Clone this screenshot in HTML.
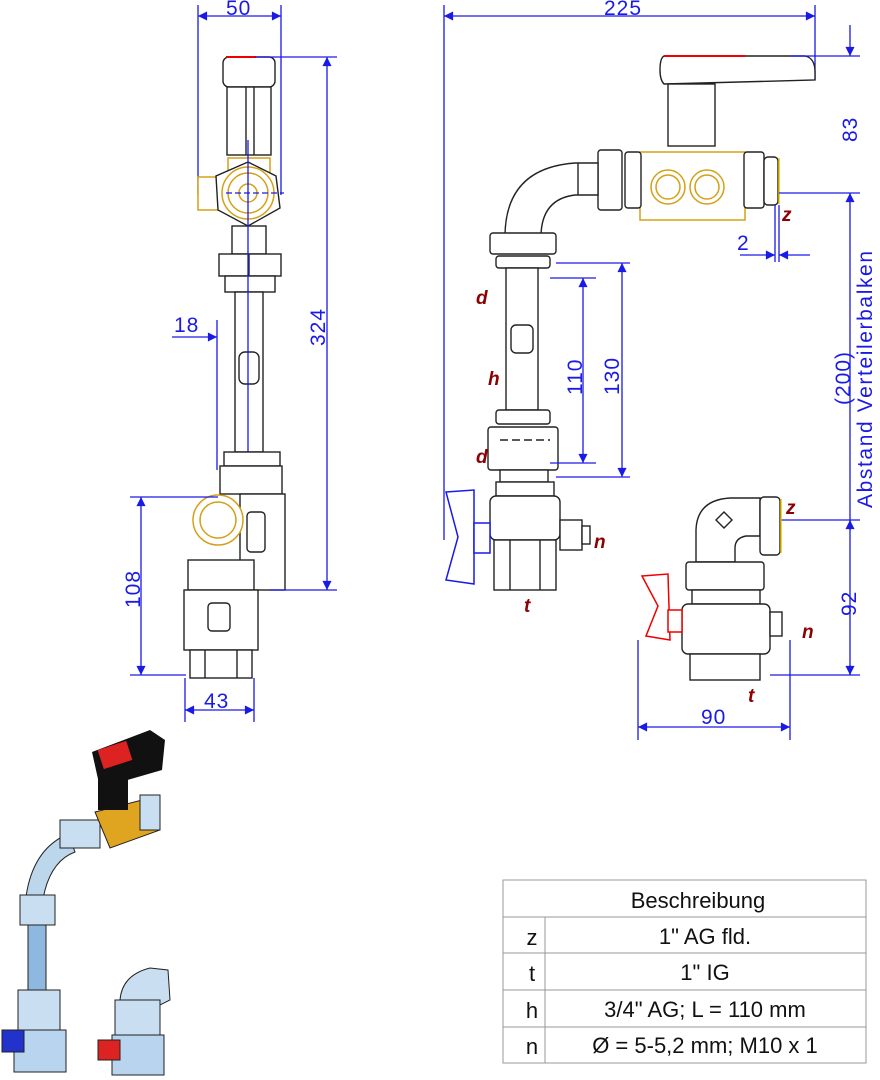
<!DOCTYPE html>
<html><head><meta charset="utf-8"><style>
html,body{margin:0;padding:0;background:#fff;}
svg{display:block;}
.d{stroke:#1a1ae6;stroke-width:1.3;fill:none}
.dt{fill:#1a1ae6;font-family:"Liberation Sans",sans-serif;font-size:21px;letter-spacing:1px}
.o{stroke:#222;stroke-width:1.4;fill:#fff}
.g{stroke:#d4a017;stroke-width:1.5;fill:#fff}
.lb{fill:#8b0000;font-family:"Liberation Sans",sans-serif;font-size:19px;font-weight:bold;font-style:italic}
.tb{font-family:"Liberation Sans",sans-serif;font-size:22px;fill:#111}
</style></head><body>
<svg width="880" height="1080" viewBox="0 0 880 1080" xmlns="http://www.w3.org/2000/svg">
<defs>
<marker id="a" viewBox="0 0 10 10" refX="10" refY="5" markerWidth="9" markerHeight="7" orient="auto-start-reverse"><path d="M0,0 L10,5 L0,10 z" fill="#1a1ae6"/></marker>
</defs>

<!-- ===== LEFT VIEW ===== -->
<line class="d" x1="198" y1="5" x2="198" y2="195"/>
<line class="d" x1="281" y1="5" x2="281" y2="195"/>
<line class="d" x1="198" y1="16" x2="281" y2="16" marker-start="url(#a)" marker-end="url(#a)"/>
<text class="dt" x="226" y="15">50</text>
<rect class="o" x="223" y="57" width="52" height="30" rx="6"/>
<line x1="226" y1="57" x2="256" y2="57" stroke="#e00" stroke-width="2"/>
<rect class="o" x="227" y="87" width="44" height="68"/>
<line class="o" x1="246" y1="87" x2="246" y2="155"/>
<line class="o" x1="254" y1="87" x2="254" y2="155"/>
<rect class="g" x="198" y="177" width="26" height="33"/>
<rect class="g" x="228" y="158" width="42" height="18"/>
<polygon class="o" points="248,162 276,176 280,208 248,226 218,210 216,176"/>
<circle class="g" cx="248" cy="193" r="26"/>
<circle class="g" cx="248" cy="193" r="20"/>
<circle class="g" cx="248" cy="193" r="9"/>
<line class="d" x1="226" y1="193" x2="284" y2="193" stroke-dasharray="6 3"/>
<rect class="o" x="232" y="226" width="34" height="28"/>
<rect class="o" x="219" y="254" width="62" height="22"/>
<line class="o" x1="249" y1="254" x2="249" y2="276"/>
<rect class="o" x="225" y="276" width="50" height="16"/>
<rect class="o" x="235" y="292" width="28" height="160"/>
<rect class="o" x="239" y="352" width="20" height="32" rx="6"/>
<line class="d" x1="217" y1="320" x2="217" y2="470"/>
<line class="d" x1="172" y1="337" x2="217" y2="337" marker-end="url(#a)"/>
<line class="d" x1="248" y1="140" x2="248" y2="470"/>
<text class="dt" x="174" y="332">18</text>
<rect class="o" x="224" y="452" width="56" height="14"/>
<rect class="o" x="220" y="466" width="62" height="28"/>
<rect class="o" x="240" y="494" width="45" height="96"/>
<rect class="o" x="247" y="512" width="18" height="40" rx="4"/>
<circle class="g" cx="218" cy="520" r="25"/>
<circle class="g" cx="218" cy="520" r="18"/>
<rect class="o" x="188" y="560" width="66" height="30"/>
<rect class="o" x="184" y="590" width="74" height="60"/>
<rect class="o" x="208" y="603" width="22" height="28" rx="4"/>
<rect class="o" x="190" y="650" width="62" height="28"/>
<line class="o" x1="205" y1="650" x2="205" y2="678"/><line class="o" x1="237" y1="650" x2="237" y2="678"/>
<line class="d" x1="255" y1="57" x2="337" y2="57"/>
<line class="d" x1="270" y1="590" x2="337" y2="590"/>
<line class="d" x1="327" y1="57" x2="327" y2="590" marker-start="url(#a)" marker-end="url(#a)"/>
<text class="dt" transform="translate(325,346) rotate(-90)">324</text>
<line class="d" x1="130" y1="497" x2="218" y2="497"/>
<line class="d" x1="130" y1="675" x2="186" y2="675"/>
<line class="d" x1="141" y1="497" x2="141" y2="675" marker-start="url(#a)" marker-end="url(#a)"/>
<text class="dt" transform="translate(140,608) rotate(-90)">108</text>
<line class="d" x1="185" y1="678" x2="185" y2="722"/>
<line class="d" x1="254" y1="678" x2="254" y2="722"/>
<line class="d" x1="185" y1="710" x2="254" y2="710" marker-start="url(#a)" marker-end="url(#a)"/>
<text class="dt" x="204" y="708">43</text>

<!-- ===== RIGHT VIEW ===== -->
<line class="d" x1="444" y1="5" x2="444" y2="540"/>
<line class="d" x1="815" y1="5" x2="815" y2="80"/>
<line class="d" x1="444" y1="16" x2="815" y2="16" marker-start="url(#a)" marker-end="url(#a)"/>
<text class="dt" x="604" y="15">225</text>
<path class="o" d="M664,56 L805,56 Q815,58 815,72 L815,80 L664,84 Q660,80 660,70 Q660,58 664,56z"/>
<line x1="664" y1="56" x2="745" y2="56" stroke="#e00" stroke-width="2"/>
<rect class="o" x="668" y="84" width="47" height="62"/>
<rect class="g" x="640" y="152" width="105" height="68"/>
<circle class="g" cx="668" cy="187" r="17"/><circle class="g" cx="668" cy="187" r="12"/>
<circle class="g" cx="707" cy="187" r="17"/><circle class="g" cx="707" cy="187" r="12"/>
<rect class="o" x="598" y="150" width="24" height="60" rx="3"/>
<rect class="o" x="625" y="152" width="16" height="56" rx="3"/>
<rect class="o" x="744" y="152" width="20" height="56" rx="3"/>
<rect class="o" x="764" y="157" width="14" height="48" rx="4"/>
<line x1="779" y1="158" x2="779" y2="204" stroke="#e8c000" stroke-width="1.5"/>
<path class="o" d="M598,163 L575,163 Q506,168 505,235 L541,235 Q542,199 575,195 L598,195 z"/>
<line class="o" x1="578" y1="163" x2="578" y2="195"/>
<rect class="o" x="490" y="233" width="66" height="21" rx="3"/>
<rect class="o" x="496" y="256" width="54" height="12" rx="3"/>
<rect class="o" x="506" y="268" width="32" height="142"/>
<rect class="o" x="511" y="325" width="22" height="28" rx="5"/>
<rect class="o" x="496" y="410" width="54" height="14" rx="3"/>
<rect class="o" x="488" y="427" width="70" height="43" rx="3"/>
<line class="o" x1="500" y1="440" x2="550" y2="440" stroke-dasharray="8 4"/>
<rect class="o" x="500" y="470" width="48" height="12"/>
<rect class="o" x="496" y="482" width="58" height="14"/>
<rect class="o" x="490" y="496" width="70" height="44" rx="6"/>
<rect class="o" x="494" y="540" width="62" height="50"/>
<line class="o" x1="510" y1="540" x2="510" y2="590"/><line class="o" x1="540" y1="540" x2="540" y2="590"/>
<rect class="o" x="560" y="520" width="22" height="30"/>
<rect class="o" x="582" y="526" width="8" height="18"/>
<path d="M446,492 L474,490 L474,584 L446,580 L458,537 z" fill="#fff" stroke="#1a1ae6" stroke-width="1.5"/>
<rect x="474" y="523" width="16" height="30" fill="#fff" stroke="#1a1ae6" stroke-width="1.5"/>
<line class="d" x1="550" y1="278" x2="596" y2="278"/>
<line class="d" x1="550" y1="463" x2="596" y2="463"/>
<line class="d" x1="583" y1="278" x2="583" y2="463" marker-start="url(#a)" marker-end="url(#a)"/>
<text class="dt" transform="translate(582,395) rotate(-90)">110</text>
<line class="d" x1="556" y1="263" x2="630" y2="263"/>
<line class="d" x1="556" y1="477" x2="630" y2="477"/>
<line class="d" x1="622" y1="263" x2="622" y2="477" marker-start="url(#a)" marker-end="url(#a)"/>
<text class="dt" transform="translate(619,395) rotate(-90)">130</text>
<line class="d" x1="775" y1="205" x2="775" y2="262"/>
<line class="d" x1="779" y1="205" x2="779" y2="262"/>
<line class="d" x1="740" y1="255" x2="775" y2="255" marker-end="url(#a)"/>
<line class="d" x1="810" y1="255" x2="779" y2="255" marker-end="url(#a)"/>
<text class="dt" x="737" y="250">2</text>
<line class="d" x1="790" y1="56" x2="860" y2="56"/>
<line class="d" x1="779" y1="193" x2="860" y2="193"/>
<line class="d" x1="850" y1="25" x2="850" y2="56" marker-end="url(#a)"/>
<line class="d" x1="850" y1="193" x2="850" y2="675" marker-start="url(#a)"/>
<text class="dt" transform="translate(857,142) rotate(-90)">83</text>
<text class="dt" transform="translate(850,405) rotate(-90)">(200)</text>
<text class="dt" transform="translate(872,508) rotate(-90)" style="letter-spacing:1.6px">Abstand Verteilerbalken</text>
<line class="d" x1="780" y1="520" x2="860" y2="520"/>
<line class="d" x1="770" y1="675" x2="860" y2="675"/>
<line class="d" x1="850" y1="530" x2="850" y2="520" marker-end="url(#a)"/>
<line class="d" x1="850" y1="665" x2="850" y2="675" marker-end="url(#a)"/>
<text class="dt" transform="translate(856,616) rotate(-90)">92</text>
<path class="o" d="M760,498 L730,498 Q697,500 696,530 L696,562 L735,562 L735,548 Q735,538 746,536 L760,536 z"/>
<polygon class="o" points="724,512 732,520 724,528 716,520"/>
<rect class="o" x="760" y="497" width="20" height="58" rx="4"/>
<line x1="781" y1="499" x2="781" y2="553" stroke="#e8c000" stroke-width="1.5"/>
<rect class="o" x="686" y="562" width="78" height="28" rx="3"/>
<rect class="o" x="692" y="590" width="68" height="14"/>
<rect class="o" x="682" y="604" width="88" height="50" rx="6"/>
<rect class="o" x="690" y="654" width="70" height="26"/>
<rect class="o" x="770" y="612" width="12" height="24"/>
<path d="M642,576 L668,574 L670,640 L646,636 L658,606 z" fill="#fff" stroke="#e00" stroke-width="1.5"/>
<rect x="668" y="610" width="14" height="22" fill="#fff" stroke="#e00" stroke-width="1.5"/>
<line class="d" x1="638" y1="640" x2="638" y2="740"/>
<line class="d" x1="790" y1="640" x2="790" y2="740"/>
<line class="d" x1="638" y1="727" x2="790" y2="727" marker-start="url(#a)" marker-end="url(#a)"/>
<text class="dt" x="701" y="724">90</text>
<text class="lb" x="782" y="221">z</text>
<text class="lb" x="476" y="304">d</text>
<text class="lb" x="488" y="385">h</text>
<text class="lb" x="476" y="463">d</text>
<text class="lb" x="594" y="548">n</text>
<text class="lb" x="524" y="612">t</text>
<text class="lb" x="786" y="514">z</text>
<text class="lb" x="802" y="638">n</text>
<text class="lb" x="748" y="702">t</text>

<!-- ===== 3D PICTURE (approx) ===== -->
<path d="M68,834 Q30,850 25,905 L42,905 Q48,862 75,852 z" fill="#bcd6ec" stroke="#222"/>
<rect x="20" y="895" width="35" height="30" fill="#c9def0" stroke="#222"/>
<rect x="28" y="925" width="18" height="70" fill="#8fb8e0" stroke="#222"/>
<rect x="18" y="990" width="42" height="40" fill="#c9def0" stroke="#222"/>
<rect x="14" y="1030" width="52" height="42" fill="#b8d4ee" stroke="#222"/>
<rect x="2" y="1030" width="22" height="22" fill="#2233cc" stroke="#222"/>
<rect x="60" y="820" width="40" height="28" fill="#c9def0" stroke="#222"/>
<path d="M95,812 L150,798 L160,830 L110,848 z" fill="#e0a520" stroke="#222"/>
<rect x="140" y="795" width="20" height="35" fill="#c9def0" stroke="#222"/>
<rect x="98" y="765" width="30" height="45" fill="#111"/>
<path d="M92,752 L150,730 L165,740 L162,770 L100,788 z" fill="#111"/>
<rect x="100" y="745" width="30" height="20" fill="#d22" transform="rotate(-18 115 755)"/>
<path d="M120,1000 Q122,975 150,968 L168,970 L170,1000 L150,1010 z" fill="#c9def0" stroke="#222"/>
<rect x="115" y="1000" width="45" height="35" fill="#c9def0" stroke="#222"/>
<rect x="112" y="1035" width="52" height="40" fill="#b8d4ee" stroke="#222"/>
<rect x="98" y="1040" width="22" height="20" fill="#dd2222" stroke="#222"/>

<!-- ===== TABLE ===== -->
<g stroke="#999" stroke-width="1" fill="none">
<rect x="503" y="880" width="363" height="183"/>
<line x1="503" y1="917" x2="866" y2="917"/>
<line x1="503" y1="953" x2="866" y2="953"/>
<line x1="503" y1="990" x2="866" y2="990"/>
<line x1="503" y1="1027" x2="866" y2="1027"/>
<line x1="545" y1="917" x2="545" y2="1063"/>
</g>
<text class="tb" x="698" y="908" text-anchor="middle">Beschreibung</text>
<text class="tb" x="532" y="945" text-anchor="middle">z</text>
<text class="tb" x="705" y="944" text-anchor="middle">1" AG fld.</text>
<text class="tb" x="532" y="981" text-anchor="middle">t</text>
<text class="tb" x="705" y="980" text-anchor="middle">1" IG</text>
<text class="tb" x="532" y="1018" text-anchor="middle">h</text>
<text class="tb" x="705" y="1017" text-anchor="middle">3/4" AG; L = 110 mm</text>
<text class="tb" x="532" y="1054" text-anchor="middle">n</text>
<text class="tb" x="705" y="1053" text-anchor="middle">Ø = 5-5,2 mm; M10 x 1</text>
</svg>
</body></html>
